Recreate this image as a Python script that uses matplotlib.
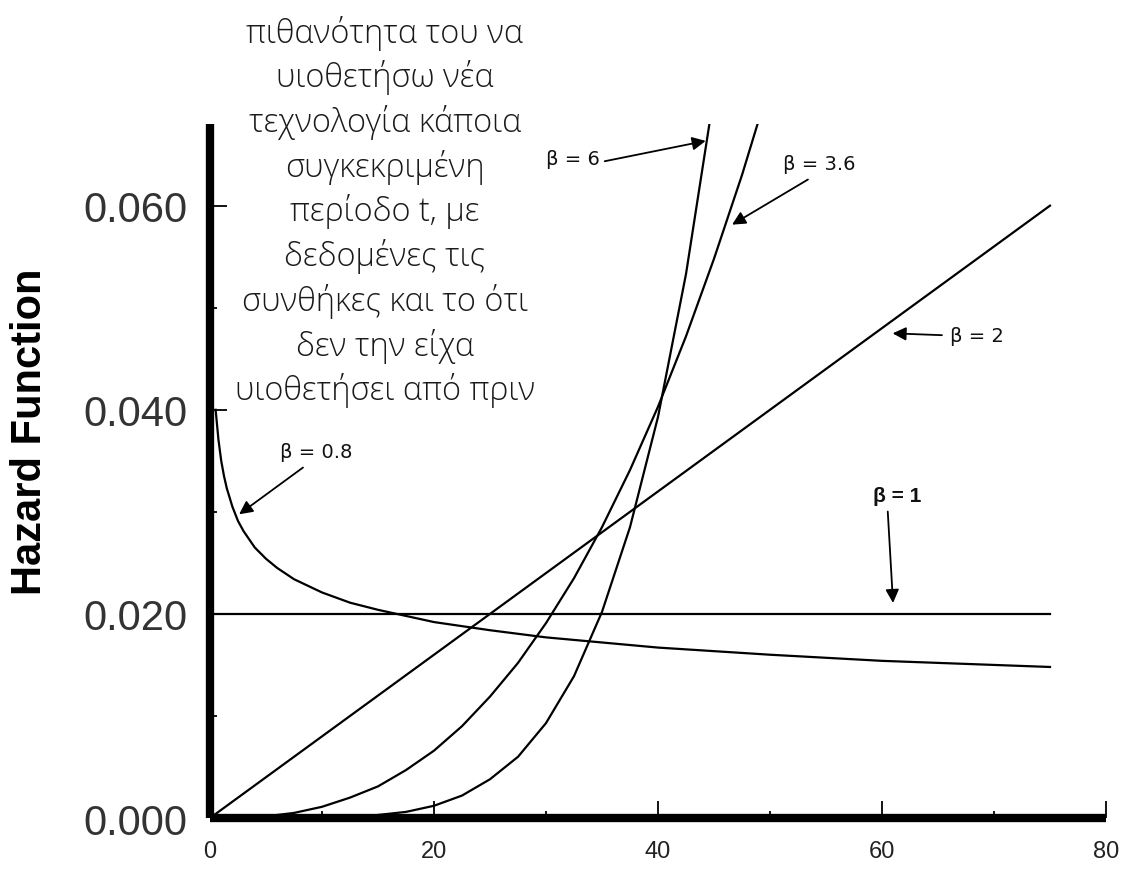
import matplotlib
matplotlib.use('Agg')
import matplotlib.pyplot as plt

# hazard curves (time t, hazard h)
t_b08 = [0.5, 0.75, 1, 1.25, 1.5, 2, 2.5, 3, 4, 5, 6, 7.5, 10, 12.5, 15, 20, 25,
         30, 40, 50, 60, 75]
h_b08 = [0.0400, 0.0371, 0.0350, 0.0335, 0.0323, 0.0305, 0.0291, 0.0281, 0.0265,
         0.0254, 0.0245, 0.0234, 0.0221, 0.0211, 0.0204, 0.0192, 0.0184, 0.0177,
         0.0167, 0.0160, 0.0154, 0.0148]

t_b1 = [0, 75]
h_b1 = [0.020, 0.020]

t_b2 = [0, 10, 20, 30, 40, 50, 60, 70, 75]
h_b2 = [0.000, 0.008, 0.016, 0.024, 0.032, 0.040, 0.048, 0.056, 0.060]

t_b36 = [6, 7.5, 10, 12.5, 15, 17.5, 20, 22.5, 25, 27.5, 30, 32.5, 35, 37.5, 40,
         42.5, 45, 47.5, 50]
h_b36 = [0.0003, 0.0005, 0.0011, 0.0020, 0.0031, 0.0047, 0.0066, 0.0090, 0.0119,
         0.0152, 0.0191, 0.0235, 0.0285, 0.0341, 0.0403, 0.0472, 0.0548, 0.0630, 0.0720]

t_b6 = [15, 17.5, 20, 22.5, 25, 27.5, 30, 32.5, 35, 37.5, 40, 42.5, 45]
h_b6 = [0.0003, 0.0006, 0.0012, 0.0022, 0.0038, 0.0060, 0.0093, 0.0139, 0.0202,
        0.0285, 0.0393, 0.0533, 0.0709]

x_ticks = [0, 20, 40, 60, 80]
y_ticks = [0.000, 0.020, 0.040, 0.060]
y_tick_labels = ['0.000', '0.020', '0.040', '0.060']

note = ('πιθανότητα του να\nυιοθετήσω νέα\nτεχνολογία κάποια\nσυγκεκριμένη\n'
        'περίοδο t, με\nδεδομένες τις\nσυνθήκες και το ότι\nδεν την είχα\n'
        'υιοθετήσει από πριν')

fig = plt.figure(figsize=(11.34, 8.70), dpi=100)
ax = fig.add_axes([0.1852, 0.0586, 0.7901, 0.7977])

for t, h in [(t_b08, h_b08), (t_b1, h_b1), (t_b2, h_b2), (t_b36, h_b36), (t_b6, h_b6)]:
    ax.plot(t, h, color='black', lw=1.6)

ax.set_xlim(0, 80)
ax.set_ylim(0, 0.0680)

for s in ['top', 'right']:
    ax.spines[s].set_visible(False)
for s in ['left', 'bottom']:
    ax.spines[s].set_linewidth(6)
    ax.spines[s].set_capstyle('butt')

ax.set_xticks(x_ticks)
ax.set_xticks([10, 30, 50, 70], minor=True)
ax.set_yticks(y_ticks)
ax.set_yticklabels(y_tick_labels)
ax.set_yticks([0.010, 0.030, 0.050], minor=True)
ax.tick_params(which='major', direction='in', length=12, width=1.3, color='black')
ax.tick_params(which='minor', direction='in', length=5, width=1.3, color='black')
ax.tick_params(axis='y', which='major', pad=16, labelsize=30, labelcolor='#333333')
ax.tick_params(axis='x', which='major', pad=16, labelsize=17, labelcolor='#222222')
for lab in ax.get_xticklabels() + ax.get_yticklabels():
    lab.set_family('Liberation Sans')

ax.set_ylabel('Hazard Function', fontsize=30, fontweight='bold', family='Liberation Sans')
ax.yaxis.set_label_coords(-0.1786, 0.558)

arrow = dict(arrowstyle='-|>', color='black', lw=1.3, mutation_scale=20)
lab_kw = dict(fontsize=14, family='DejaVu Sans', color='#111111', va='center')

ax.annotate('', xy=(44.5, 0.0664), xytext=(35.0, 0.0643), arrowprops=arrow)
ax.text(30.0, 0.0646, 'β = 6', **lab_kw)

ax.annotate('', xy=(46.4, 0.0580), xytext=(53.6, 0.0627), arrowprops=arrow)
ax.text(51.2, 0.0641, 'β = 3.6', **lab_kw)

ax.annotate('', xy=(60.7, 0.0475), xytext=(65.6, 0.0473), arrowprops=arrow)
ax.text(66.1, 0.0473, 'β = 2', **lab_kw)

ax.annotate('', xy=(61.0, 0.0208), xytext=(60.5, 0.0303), arrowprops=arrow)
ax.text(59.2, 0.0316, 'β = 1', fontsize=15, family='Liberation Sans',
        fontweight='bold', color='#111111', va='center')

ax.annotate('', xy=(2.4, 0.0296), xytext=(8.5, 0.0345), arrowprops=arrow)
ax.text(6.25, 0.0359, 'β = 0.8', **lab_kw)

fig.text(385 / 1134, 1 - 212 / 870, note, ha='center', va='center', fontsize=23.5,
         family='Open Sans', fontweight='light', color='#1a1a1a', linespacing=1.36)

fig.savefig('out.png', dpi=100)
